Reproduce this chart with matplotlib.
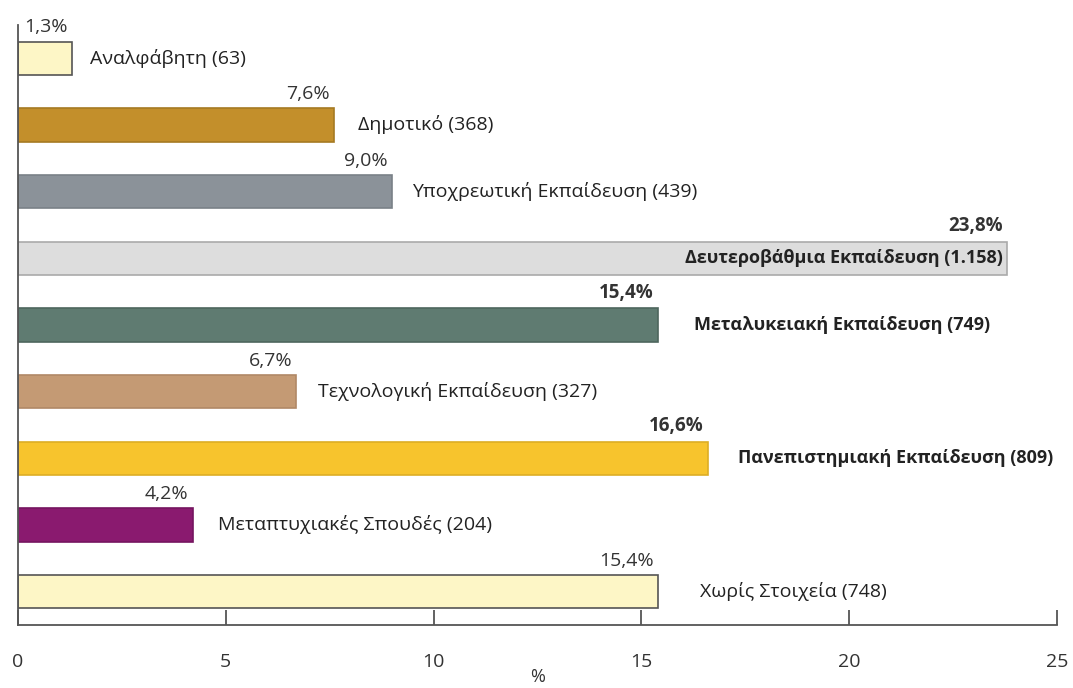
import matplotlib
matplotlib.use("Agg")
import matplotlib.pyplot as plt

categories = [
    "Αναλφάβητη (63)",
    "Δημοτικό (368)",
    "Υποχρεωτική Εκπαίδευση (439)",
    "Δευτεροβάθμια Εκπαίδευση (1.158)",
    "Μεταλυκειακή Εκπαίδευση (749)",
    "Τεχνολογική Εκπαίδευση (327)",
    "Πανεπιστημιακή Εκπαίδευση (809)",
    "Μεταπτυχιακές Σπουδές (204)",
    "Χωρίς Στοιχεία (748)",
]
values = [1.3, 7.6, 9.0, 23.8, 15.4, 6.7, 16.6, 4.2, 15.4]
value_labels = ["1,3%", "7,6%", "9,0%", "23,8%", "15,4%", "6,7%", "16,6%", "4,2%", "15,4%"]
bold = [False, False, False, True, True, False, True, False, False]
xticks = [0, 5, 10, 15, 20, 25]

# styling
colors = ["#FDF6C6", "#C38F2B", "#8B9299", "#DDDDDD", "#5F7B71",
          "#C49A74", "#F7C42D", "#8A1A6F", "#FDF6C6"]
edges = ["#555555", "#A67A22", "#7A8188", "#AAAAAA", "#4E665D",
         "#B08866", "#DDAE25", "#751560", "#555555"]
label_offset_px = [18, 24, 20, 0, 36, 22, 30, 25, 42]

plt.rcParams["font.family"] = ["Open Sans", "DejaVu Sans"]

fig = plt.figure(figsize=(10.73, 6.88), dpi=100)
ax = fig.add_axes([18 / 1073, 63 / 688, 1039 / 1073, 600 / 688])

ypos = list(range(len(values)))
ax.barh(ypos, values, height=0.5, color=colors, edgecolor=edges, linewidth=1.2)

ax.set_xlim(0, 25)
ax.set_ylim(len(values) - 0.5, -0.5)

px_per_unit = 1039 / 25.0
for i, (v, lab, cat, b) in enumerate(zip(values, value_labels, categories, bold)):
    w = "bold" if b else "normal"
    fs = 13 if b else 14
    ax.text(v - 0.1, i - 0.33, lab, ha="right", va="bottom", fontsize=13.5 if b else 14,
            fontweight=w, color="#333333")
    if v > 20:
        ax.text(v - 0.1, i, cat, ha="right", va="center", fontsize=fs,
                fontweight=w, color="#222222")
    else:
        ax.text(v + label_offset_px[i] / px_per_unit, i, cat, ha="left", va="center",
                fontsize=fs, fontweight=w, color="#222222")

for s in ["top", "right"]:
    ax.spines[s].set_visible(False)
for s in ["left", "bottom"]:
    ax.spines[s].set_color("#555555")
    ax.spines[s].set_linewidth(1.3)

ax.set_yticks([])
ax.set_xticks(xticks)
ax.set_xticklabels([str(t) for t in xticks])
ax.tick_params(axis="x", direction="in", length=11, width=1.3, color="#555555",
               pad=20, labelsize=14, labelcolor="#333333")
ax.set_xlabel("%", fontsize=13, color="#333333", labelpad=-2)

fig.savefig("out.png", dpi=100)
